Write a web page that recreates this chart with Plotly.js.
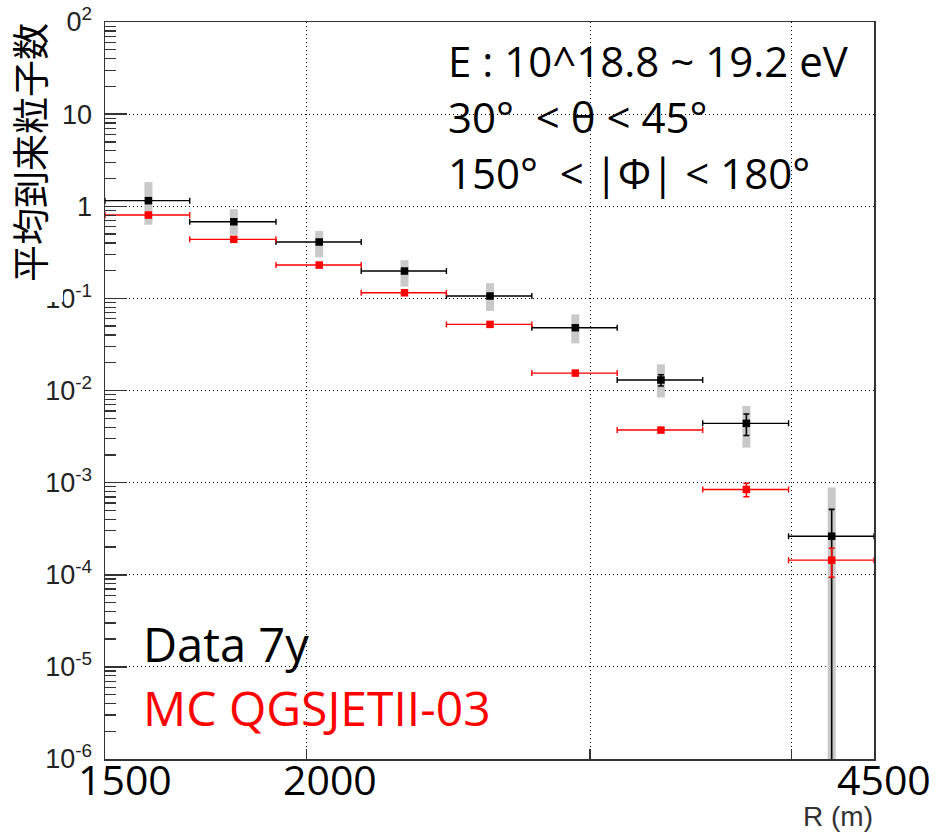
<!DOCTYPE html>
<html>
<head>
<meta charset="utf-8">
<script src="https://cdn.plot.ly/plotly-3.0.1.min.js"></script>
<style>html,body{margin:0;padding:0;background:#fff;}</style>
</head>
<body>
<div id="chart" style="width:937px;height:833px;"></div>
<script>
// ---- data ----
const rCenter = [1596, 1803, 2037, 2301, 2600, 2937, 3319, 3750, 4236];
const rLow    = [1500, 1693, 1915, 2163, 2443, 2760, 3118, 3523, 3983];
const rHigh   = [1693, 1915, 2163, 2443, 2760, 3118, 3523, 3983, 4500];

const dataMean    = [1.15, 0.679, 0.409, 0.198, 0.106, 0.048, 0.0130, 0.0044, 2.62e-4];
const dataStat    = [0.03, 0.015, 0.008, 0.004, 0.002, 0.0012, 0.0018, 0.00115, 2.5e-4];
const dataStatLo  = [0.03, 0.015, 0.008, 0.004, 0.002, 0.0012, 0.0018, 0.00115, 2.62e-4];
const dataSysUp   = [0.68, 0.25, 0.13, 0.062, 0.040, 0.019, 0.0062, 0.0024, 6.25e-4];
const dataSysDown = [0.52, 0.19, 0.13, 0.064, 0.033, 0.0155, 0.0046, 0.0020, 2.62e-4];

const mcMean = [0.803, 0.437, 0.230, 0.115, 0.0522, 0.01545, 0.00372, 8.43e-4, 1.44e-4];
const mcStat = [0.01, 0.006, 0.003, 0.0015, 0.0007, 0.0003, 0.0001, 1.4e-4, 5e-5];

const yTickVals = [1e-6, 1e-5, 1e-4, 1e-3, 1e-2, 1e-1, 1, 10, 100];
const yTickText = ['10<sup>-6</sup>', '10<sup>-5</sup>', '10<sup>-4</sup>', '10<sup>-3</sup>',
                   '10<sup>-2</sup>', '10<sup>-1</sup>', '1', '10', '10<sup>2</sup>'];
const xGridVals = [2000, 3000, 4000];
const xLabelText = ['1500', '2000', '4500'];
const infoLines = ['E : 10^18.8 ~ 19.2 eV', '30°\u00a0\u00a0< θ < 45°', '150°\u00a0\u00a0< |Φ| < 180°'];
const legendLabels = ['Data 7y', 'MC QGSJETII-03'];
const yTitle = '平均到来粒子数';
const xTitle = 'R (m)';

// ---- derived ----
const xPlus = rCenter.map((c, i) => rHigh[i] - c);
const xMinus = rCenter.map((c, i) => c - rLow[i]);
const yMinor = [];
yTickVals.slice(0, -1).forEach(d => { for (let k = 2; k <= 9; k++) yMinor.push(d * k); });

const traces = [
  { // systematic band (grey)
    x: rCenter, y: dataMean, type: 'scatter', mode: 'markers',
    marker: {color: 'rgba(0,0,0,0)', size: 1},
    error_y: {type: 'data', symmetric: false, array: dataSysUp, arrayminus: dataSysDown,
              color: '#c9c9c9', thickness: 8, width: 0},
    showlegend: false, hoverinfo: 'skip'
  },
  { // Data
    x: rCenter, y: dataMean, type: 'scatter', mode: 'markers', name: legendLabels[0],
    marker: {symbol: 'square', size: 7.5, color: '#000000'},
    error_y: {type: 'data', symmetric: false, array: dataStat, arrayminus: dataStatLo,
              color: '#000000', thickness: 1.6, width: 3},
    error_x: {type: 'data', symmetric: false, array: xPlus, arrayminus: xMinus,
              color: '#000000', thickness: 1.4, width: 3},
    showlegend: false
  },
  { // MC
    x: rCenter, y: mcMean, type: 'scatter', mode: 'markers', name: legendLabels[1],
    marker: {symbol: 'square', size: 7.5, color: '#ff0000'},
    error_y: {type: 'data', array: mcStat, color: '#ff0000', thickness: 1.6, width: 3},
    error_x: {type: 'data', symmetric: false, array: xPlus, arrayminus: xMinus,
              color: '#ff0000', thickness: 1.4, width: 3},
    showlegend: false
  }
];

const pl = 105, pr = 874, pt = 22, pb = 759;
const px = v => (v - pl) / (pr - pl);
const py = v => (pb - v) / (pb - pt);

const infoFont = {family: 'Open Sans', size: 42, color: '#000000'};
const annotations = [];
const infoY = [61, 117, 173];
infoLines.forEach((t, i) => annotations.push({
  text: t, xref: 'paper', yref: 'paper', x: px(446), y: py(infoY[i]),
  xanchor: 'left', yanchor: 'middle', showarrow: false, font: infoFont
}));
annotations.push({text: legendLabels[0], xref: 'paper', yref: 'paper', x: px(141), y: py(644),
  xanchor: 'left', yanchor: 'middle', showarrow: false,
  font: {family: 'Open Sans', size: 47, color: '#000000'}});
annotations.push({text: legendLabels[1], xref: 'paper', yref: 'paper', x: px(141), y: py(707),
  xanchor: 'left', yanchor: 'middle', showarrow: false,
  font: {family: 'Open Sans', size: 48, color: '#ff0000'}});
const xLabelPx = [125, 330, 884];
xLabelText.forEach((t, i) => annotations.push({
  text: t, xref: 'paper', yref: 'paper', x: px(xLabelPx[i]), y: py(779),
  xanchor: 'center', yanchor: 'middle', showarrow: false,
  font: {family: 'Open Sans', size: 41, color: '#000000'}
}));
annotations.push({text: xTitle, xref: 'paper', yref: 'paper', x: px(875), y: py(816),
  xanchor: 'right', yanchor: 'middle', showarrow: false,
  font: {family: 'Liberation Sans', size: 28, color: '#333333'}});
annotations.push({text: yTitle, xref: 'paper', yref: 'paper', x: px(29), y: py(153),
  xanchor: 'center', yanchor: 'middle', textangle: -90, showarrow: false,
  font: {family: 'Noto Sans CJK JP', size: 37, color: '#000000'}});

const layout = {
  width: 937, height: 833,
  margin: {l: 105, r: 63, t: 22, b: 74, pad: 0},
  paper_bgcolor: '#ffffff', plot_bgcolor: '#ffffff',
  showlegend: false,
  xaxis: {
    type: 'log', range: [Math.log10(1500), Math.log10(4500)],
    tickmode: 'array', tickvals: xGridVals, showticklabels: false,
    ticks: 'inside', ticklen: 10, tickwidth: 1.5, tickcolor: '#333333',
    showgrid: true, gridcolor: '#000000', gridwidth: 1, griddash: '1px,3px',
    showline: true, linecolor: '#333333', linewidth: 1.5, mirror: true,
    zeroline: false, fixedrange: true
  },
  yaxis: {
    type: 'log', range: [-6, 2],
    tickmode: 'array', tickvals: yTickVals, ticktext: yTickText,
    ticks: 'inside', ticklen: 22, tickwidth: 1.5, tickcolor: '#333333',
    tickfont: {family: 'Liberation Sans', size: 27, color: '#222222'},
    ticklabelstandoff: 6,
    minor: {tickmode: 'array', tickvals: yMinor, ticks: 'inside', ticklen: 11,
            tickwidth: 1.3, tickcolor: '#333333', showgrid: false},
    showgrid: true, gridcolor: '#000000', gridwidth: 1, griddash: '1px,3px',
    showline: true, linecolor: '#333333', linewidth: 1.5, mirror: true,
    zeroline: false, fixedrange: true
  },
  shapes: [{
    type: 'rect', xref: 'paper', yref: 'paper', layer: 'above',
    x0: px(0), x1: px(63), y0: py(302), y1: py(0),
    fillcolor: '#ffffff', line: {width: 0}
  }, {
    type: 'rect', xref: 'paper', yref: 'paper', layer: 'above',
    x0: px(0), x1: px(66), y0: py(36), y1: py(0),
    fillcolor: '#ffffff', line: {width: 0}
  }],
  annotations: annotations
};

Plotly.newPlot('chart', traces, layout, {displayModeBar: false, staticPlot: true});
</script>
</body>
</html>
